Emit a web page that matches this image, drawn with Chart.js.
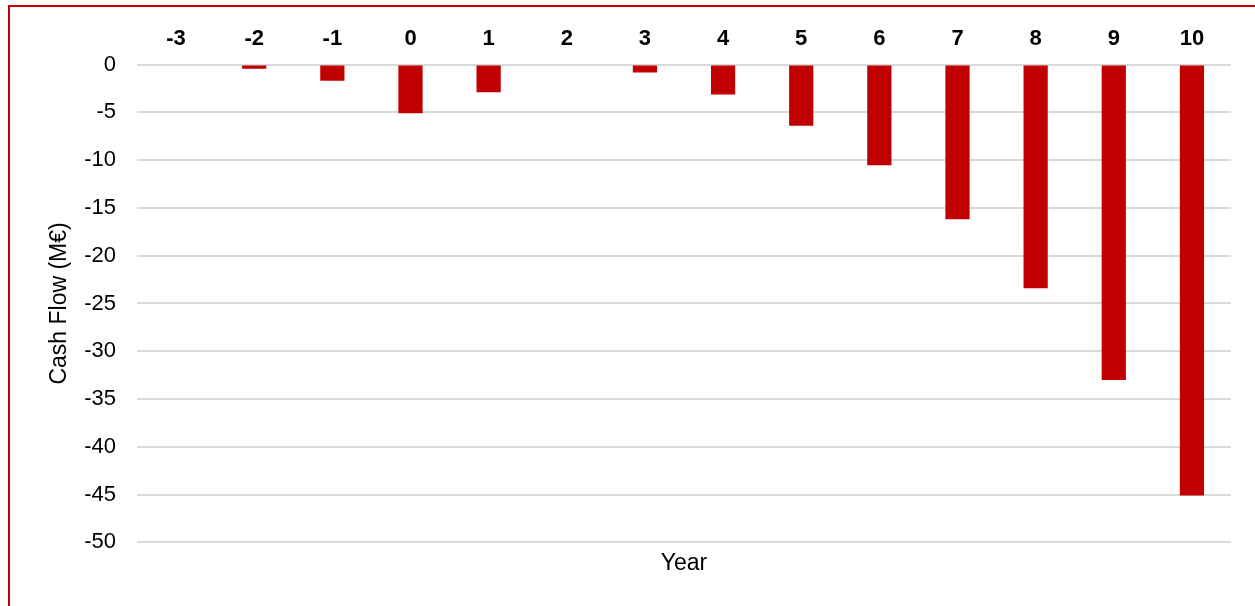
<!DOCTYPE html>
<html>
  <head>
    <title>Cash Flow by Year</title>
    <script src="https://cdn.jsdelivr.net/npm/chart.js@4/dist/chart.umd.min.js"></script>
    <style>
      body { margin: 0; background: #fff; }
      #frame {
        position: absolute; left: 8px; top: 5px; width: 1300px; height: 700px;
        border-top: 2px solid #c00000; border-left: 2px solid #c00000;
      }
      #container { position: absolute; left: 0; top: 0; width: 1255px; height: 606px; }
    </style>
  </head>

  <body>
    <div id="frame"></div>
    <div id="container">
      <canvas id="canvas"></canvas>
    </div>
    <script>
      const years = ['-3', '-2', '-1', '0', '1', '2', '3', '4', '5', '6', '7', '8', '9', '10'];
      const cashFlow = [0, -0.45, -1.7, -5.1, -2.9, 0, -0.85, -3.15, -6.4, -10.55, -16.2, -23.4, -33.0, -45.1];

      Chart.defaults.font.family = '"Liberation Sans", Arial, sans-serif';
      Chart.defaults.color = '#000';

      window.onload = () => {
        const ctx = document.getElementById('canvas').getContext('2d');
        new Chart(ctx, {
          type: 'bar',
          data: {
            labels: years,
            datasets: [
              {
                label: 'Cash Flow',
                data: cashFlow,
                backgroundColor: '#c00000',
                borderWidth: 0,
                barPercentage: 0.62,
                categoryPercentage: 0.5,
              },
            ],
          },
          options: {
            responsive: true,
            maintainAspectRatio: false,
            animation: false,
            layout: {
              padding: { left: 10, right: 24, top: 0, bottom: 29 },
            },
            plugins: {
              legend: { display: false },
              tooltip: { enabled: false },
            },
            scales: {
              x: {
                position: 'top',
                grid: { display: false, drawTicks: false },
                border: { display: false },
                ticks: {
                  font: { size: 22, weight: 'bold' },
                  padding: 12,
                  maxRotation: 0,
                },
                afterFit: (scale) => { scale.height = 64.5; },
              },
              // bottom axis only carries the "Year" title
              xTitle: {
                type: 'category',
                labels: years,
                position: 'bottom',
                grid: { display: false, drawTicks: false },
                border: { display: false },
                ticks: { display: false },
                title: {
                  display: true,
                  text: 'Year',
                  font: { size: 23 },
                  padding: { top: 7, bottom: 0 },
                },
              },
              y: {
                min: -50,
                max: 0,
                ticks: {
                  stepSize: 5,
                  font: { size: 22 },
                  padding: 21,
                },
                grid: { color: '#d9d9d9', lineWidth: 2, drawTicks: false },
                border: { display: false },
                title: {
                  display: true,
                  text: 'Cash Flow (M€)',
                  font: { size: 23 },
                  padding: { top: 36, bottom: 0 },
                },
                afterFit: (scale) => { scale.width = 127; },
              },
            },
          },
        });
      };
    </script>
  </body>
</html>
